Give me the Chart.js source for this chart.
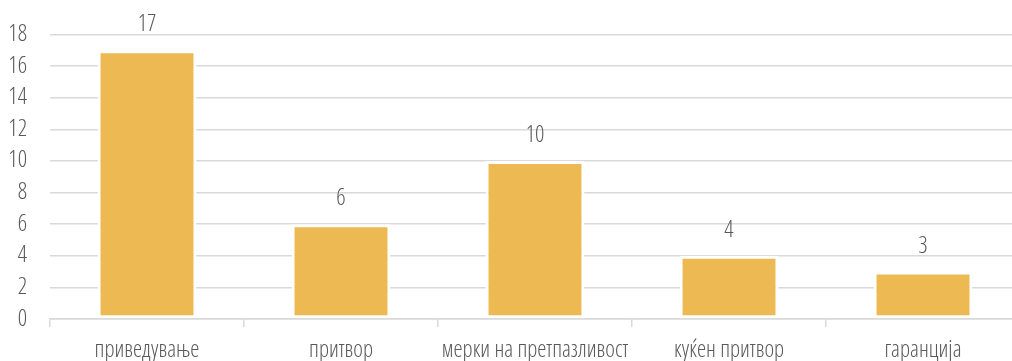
<!DOCTYPE html>
<html>
<head>
<meta charset="utf-8">
<script src="https://cdn.jsdelivr.net/npm/chart.js@4/dist/chart.umd.min.js"></script>
<style>
  html, body { margin: 0; padding: 0; background: #fff; overflow: hidden; }
  #wrap { position: relative; width: 1022px; height: 361px; }
</style>
</head>
<body>
<div id="wrap"><canvas id="chart"></canvas></div>
<script>
  var categories = ["приведување", "притвор", "мерки на претпазливост", "куќен притвор", "гаранција"];
  var counts = [17, 6, 10, 4, 3];
  var yTicks = [0, 2, 4, 6, 8, 10, 12, 14, 16, 18];

  var FONT = "'Open Sans', 'Roboto Condensed', sans-serif";
  var TEXT = "#595959";
  var GRID = "#d9d9d9";

  // The original uses a tall condensed face; Chart.js only sets ctx.font,
  // so keep the canvas in condensed stretch whenever the font changes.
  var fontDesc = Object.getOwnPropertyDescriptor(CanvasRenderingContext2D.prototype, "font");
  Object.defineProperty(CanvasRenderingContext2D.prototype, "font", {
    configurable: true,
    get: fontDesc.get,
    set: function (v) {
      fontDesc.set.call(this, v);
      this.fontStretch = "condensed";
    },
  });

  // Value labels above each bar, positioned from the bar elements.
  var valueLabels = {
    id: "valueLabels",
    afterDatasetsDraw: function (chart) {
      var ctx = chart.ctx;
      var meta = chart.getDatasetMeta(0);
      ctx.save();
      ctx.font = "300 23px " + FONT;
      ctx.fillStyle = TEXT;
      ctx.textAlign = "center";
      ctx.textBaseline = "bottom";
      meta.data.forEach(function (bar, i) {
        ctx.fillText(String(counts[i]), bar.x, bar.y - 14);
      });
      ctx.restore();
    },
  };

  new Chart(document.getElementById("chart"), {
    type: "bar",
    data: {
      labels: categories,
      datasets: [
        {
          data: counts,
          backgroundColor: "#edb952",
          borderColor: "#ffffff",
          borderWidth: 3,
          borderSkipped: false,
          categoryPercentage: 1,
          barPercentage: 0.51,
        },
      ],
    },
    options: {
      responsive: true,
      maintainAspectRatio: false,
      animation: false,
      layout: { padding: { top: 32, right: 2, left: 0, bottom: 0 } },
      plugins: { legend: { display: false }, tooltip: { enabled: false } },
      scales: {
        x: {
          z: 1,
          afterFit: function (scale) { scale.height = 42; },
          grid: {
            offset: true,
            drawOnChartArea: false,
            drawTicks: true,
            tickLength: 8,
            color: GRID,
            lineWidth: 1.5,
          },
          border: { display: true, color: GRID, width: 1.5 },
          ticks: {
            color: TEXT,
            font: { family: FONT, size: 23, weight: "300" },
            padding: 10,
            maxRotation: 0,
            autoSkip: false,
          },
        },
        y: {
          min: 0,
          max: 18,
          afterBuildTicks: function (scale) {
            scale.ticks = yTicks.map(function (v) { return { value: v }; });
          },
          afterFit: function (scale) { scale.width = 50; },
          grid: { color: GRID, lineWidth: 1.5, drawTicks: false },
          border: { display: false },
          ticks: {
            color: TEXT,
            font: { family: FONT, size: 23, weight: "300", lineHeight: 1 },
            padding: 23,
            autoSkip: false,
          },
        },
      },
    },
    plugins: [valueLabels],
  });
</script>
</body>
</html>
